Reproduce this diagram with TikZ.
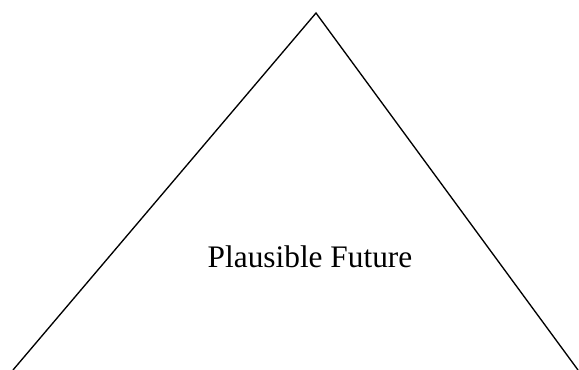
\documentclass[tikz,border=0pt]{standalone}
\usepackage{fontspec}
\setmainfont{Liberation Serif}
\usetikzlibrary{positioning}

\begin{document}
\begin{tikzpicture}[x=0.75pt,y=-0.75pt,
  side/.style={draw,line width=1pt,line join=miter},
  lab/.style={font=\fontsize{23.5}{28}\selectfont,inner sep=0pt,anchor=base}]
\useasboundingbox (0,0) rectangle (579,370);
\coordinate (apex) at (316,13);
\coordinate (bl) at (13,370);
\coordinate (br) at (578,370);
\draw[side] (bl) -- (apex) -- (br);
\node[lab] (future) at (310,268) {Plausible Future};
\end{tikzpicture}
\end{document}
